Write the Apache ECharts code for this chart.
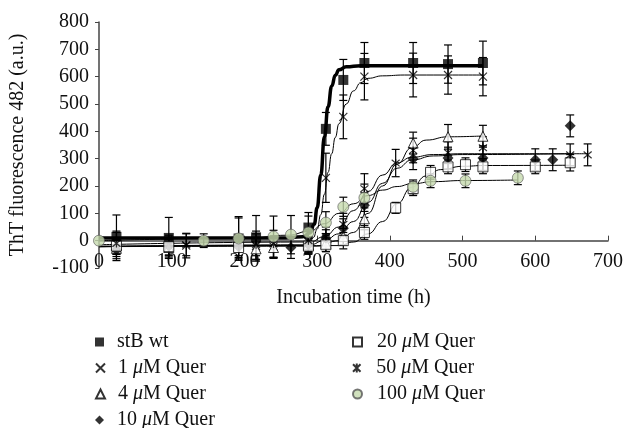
<!DOCTYPE html>
<html>
<head>
<meta charset="utf-8">
<script src="https://cdn.jsdelivr.net/npm/echarts@6/dist/echarts.min.js"></script>
<style>
  html, body { margin: 0; padding: 0; background: #fff; }
  #chart { width: 626px; height: 428px; }
</style>
</head>
<body>
<div id="chart"></div>
<script>
// measured points: [time (h), fluorescence, error]
const stbWt = [[24,14,80],[96,10,75],[192,8,80],[216,12,80],[288,48,55],[312,409,60],[336,588,75],[365,650,75],[432,650,75],[480,646,70],[528,650,80]];
const quer1 = [[24,-5,40],[120,-18,45],[216,-20,55],[240,-22,40],[288,-5,40],[312,230,90],[336,453,80],[365,600,85],[432,606,80],[480,606,70],[528,600,70]];
const quer4 = [[24,-28,30],[96,-25,30],[216,-30,40],[240,-25,40],[288,-15,30],[312,-10,30],[336,15,30],[365,80,40],[432,357,40],[480,380,45],[528,382,40]];
const quer10 = [[24,-33,40],[96,-20,40],[192,-22,40],[264,-25,40],[288,-15,30],[312,10,30],[336,45,35],[365,130,45],[432,300,40],[480,302,40],[528,302,45],[600,296,40],[624,296,40],[648,420,40]];
const quer20 = [[24,-20,30],[96,-22,30],[192,-25,30],[288,-20,30],[312,-15,25],[336,0,30],[365,30,25],[408,120,20],[432,190,25],[456,250,25],[480,270,25],[504,278,25],[528,270,25],[600,270,25],[648,285,30]];
const quer50 = [[24,-10,40],[120,-15,40],[216,-15,40],[240,-12,50],[288,0,40],[312,15,35],[336,60,40],[365,190,55],[408,284,50],[432,330,45],[480,322,40],[528,340,40],[648,314,40],[672,314,40]];
const quer100 = [[0,0,0],[144,0,25],[192,8,75],[240,15,75],[264,22,70],[288,30,60],[312,66,40],[336,124,35],[365,157,50],[432,197,25],[456,219,25],[504,219,25],[576,230,25]];

// fitted curves
const fitWt = [[0,10],[250,10],[280,14],[290,28],[296,60],[300,120],[305,240],[310,380],[315,490],[320,565],[325,605],[330,625],[340,636],[360,640],[528,640]];
const fit1 = [[0,-20],[280,-18],[290,-5],[295,12],[300,42],[305,95],[310,170],[315,250],[320,318],[325,378],[330,428],[340,500],[350,548],[360,578],[370,594],[390,603],[420,606],[528,606]];
const fit4 = [[0,-22],[300,-20],[330,0],[350,30],[370,100],[390,200],[410,280],[430,340],[450,368],[480,380],[528,383]];
const fit10 = [[0,-22],[290,-15],[310,0],[330,25],[350,70],[370,140],[390,210],[410,265],[430,295],[460,310],[500,315],[648,318]];
const fit20 = [[0,-22],[330,-18],[350,-5],[370,25],[390,70],[410,135],[430,195],[450,237],[470,260],[500,272],[530,275],[648,276]];
const fit50 = [[0,-15],[290,-5],[310,15],[330,50],[350,110],[370,180],[390,240],[410,285],[430,305],[460,315],[500,318],[672,318]];
const fit100 = [[0,0],[200,8],[260,20],[290,35],[310,62],[330,100],[350,135],[370,165],[390,185],[410,198],[430,208],[460,216],[500,220],[576,222]];

const names = ['stB wt', '1 μM Quer', '4 μM Quer', '10 μM Quer', '20 μM Quer', '50 μM Quer', '100 μM Quer'];
const xTicks = { min: 0, max: 700, step: 100 };
const yTicks = { min: -100, max: 800, step: 100 };

const FONT = 'Liberation Serif';
const GREEN = '#c5d9ae';
const GRID_TOP = 22, GRID_H = 246;

const groups = [
  { name: names[0], pts: stbWt, fit: fitWt, symbol: 'rect', size: 10, style: { color: '#000' }, lw: 3.5 },
  { name: names[1], pts: quer1, fit: fit1, symbol: 'path://M0,0L10,10M10,0L0,10', size: 8, style: { color: 'rgba(0,0,0,0)', borderColor: '#000', borderWidth: 1.2 }, lw: 1 },
  { name: names[2], pts: quer4, fit: fit4, symbol: 'triangle', size: 10, style: { color: '#fff', borderColor: '#000', borderWidth: 1 }, lw: 1 },
  { name: names[3], pts: quer10, fit: fit10, symbol: 'diamond', size: 11, style: { color: '#000' }, lw: 1 },
  { name: names[4], pts: quer20, fit: fit20, symbol: 'rect', size: 10, style: { color: '#fff', borderColor: '#000', borderWidth: 1 }, lw: 1 },
  { name: names[5], pts: quer50, fit: fit50, symbol: 'path://M0,0L10,10M10,0L0,10M5,-1L5,11', size: 8, style: { color: 'rgba(0,0,0,0)', borderColor: '#000', borderWidth: 1.2 }, lw: 1 },
  { name: names[6], pts: quer100, fit: fit100, symbol: 'circle', size: 11, style: { color: GREEN, borderColor: '#555', borderWidth: 0.8 }, lw: 1 }
];

function errorBars(api) {
  const x = api.value(0), y = api.value(1), e = api.value(2);
  if (!e) return null;
  const top = api.coord([x, y + e]);
  const bot = api.coord([x, y - e]);
  const st = { stroke: '#000', lineWidth: 1.2 };
  return {
    type: 'group',
    children: [
      { type: 'line', shape: { x1: top[0], y1: top[1], x2: bot[0], y2: bot[1] }, style: st },
      { type: 'line', shape: { x1: top[0] - 4, y1: top[1], x2: top[0] + 4, y2: top[1] }, style: st },
      { type: 'line', shape: { x1: bot[0] - 4, y1: bot[1], x2: bot[0] + 4, y2: bot[1] }, style: st }
    ]
  };
}

const series = [];
groups.forEach(g => {
  series.push({
    type: 'custom', renderItem: (p, api) => errorBars(api), data: g.pts,
    encode: { x: 0, y: 1 }, silent: true, z: 2
  });
  series.push({
    type: 'line', data: g.fit, smooth: true, smoothMonotone: 'x', showSymbol: false,
    lineStyle: { color: '#000', width: g.lw }, silent: true, z: 3
  });
});
groups.forEach(g => {
  series.push({
    name: g.name, type: 'scatter', data: g.pts.map(p => [p[0], p[1]]),
    symbol: g.symbol, symbolSize: g.size, itemStyle: g.style, z: 5
  });
});

const fmt = n => n.replace('μ', '{i|μ}');
// one legend per entry: two columns, rows 26 px apart
const legends = names.map((n, i) => {
  const col = i < 4 ? 0 : 1;
  const row = col === 0 ? i : i - 4;
  return {
    data: [n], left: col === 0 ? 95 : 352, top: 332 + row * 26,
    itemWidth: 9, itemHeight: 9, padding: 0, formatter: fmt,
    textStyle: {
      fontFamily: FONT, fontSize: 20, color: '#111', padding: [0, 0, 0, col === 0 ? 8 : 10],
      rich: { i: { fontFamily: FONT, fontSize: 20, fontStyle: 'italic', color: '#111' } }
    }
  };
});

// x axis crosses at y = 0: shift it up from the grid bottom
const zeroShift = GRID_H * (0 - yTicks.min) / (yTicks.max - yTicks.min);

const chart = echarts.init(document.getElementById('chart'), null, { renderer: 'canvas' });
chart.setOption({
  animation: false,
  backgroundColor: '#fff',
  grid: { left: 96, right: 16, top: GRID_TOP, height: GRID_H },
  legend: legends,
  xAxis: {
    type: 'value', min: xTicks.min, max: xTicks.max, interval: xTicks.step,
    offset: -zeroShift,
    name: 'Incubation time (h)', nameLocation: 'middle', nameGap: 47,
    nameTextStyle: { fontFamily: FONT, fontSize: 20, color: '#111' },
    axisLine: { onZero: false, lineStyle: { color: '#444', width: 1.5 } },
    axisTick: { inside: true, length: 5, lineStyle: { color: '#444' } },
    axisLabel: { fontFamily: FONT, fontSize: 20, color: '#111', margin: 11 },
    splitLine: { show: false }
  },
  yAxis: {
    type: 'value', min: yTicks.min, max: yTicks.max, interval: yTicks.step,
    name: 'ThT fluorescence 482 (a.u.)', nameLocation: 'middle', nameGap: 71,
    nameTextStyle: { fontFamily: FONT, fontSize: 20, color: '#111' },
    axisLine: { show: true, lineStyle: { color: '#444', width: 1.5 } },
    axisTick: { show: true, length: 4, lineStyle: { color: '#444' } },
    axisLabel: { fontFamily: FONT, fontSize: 20, color: '#111', margin: 10 },
    splitLine: { show: false }
  },
  series: series
});
</script>
</body>
</html>
